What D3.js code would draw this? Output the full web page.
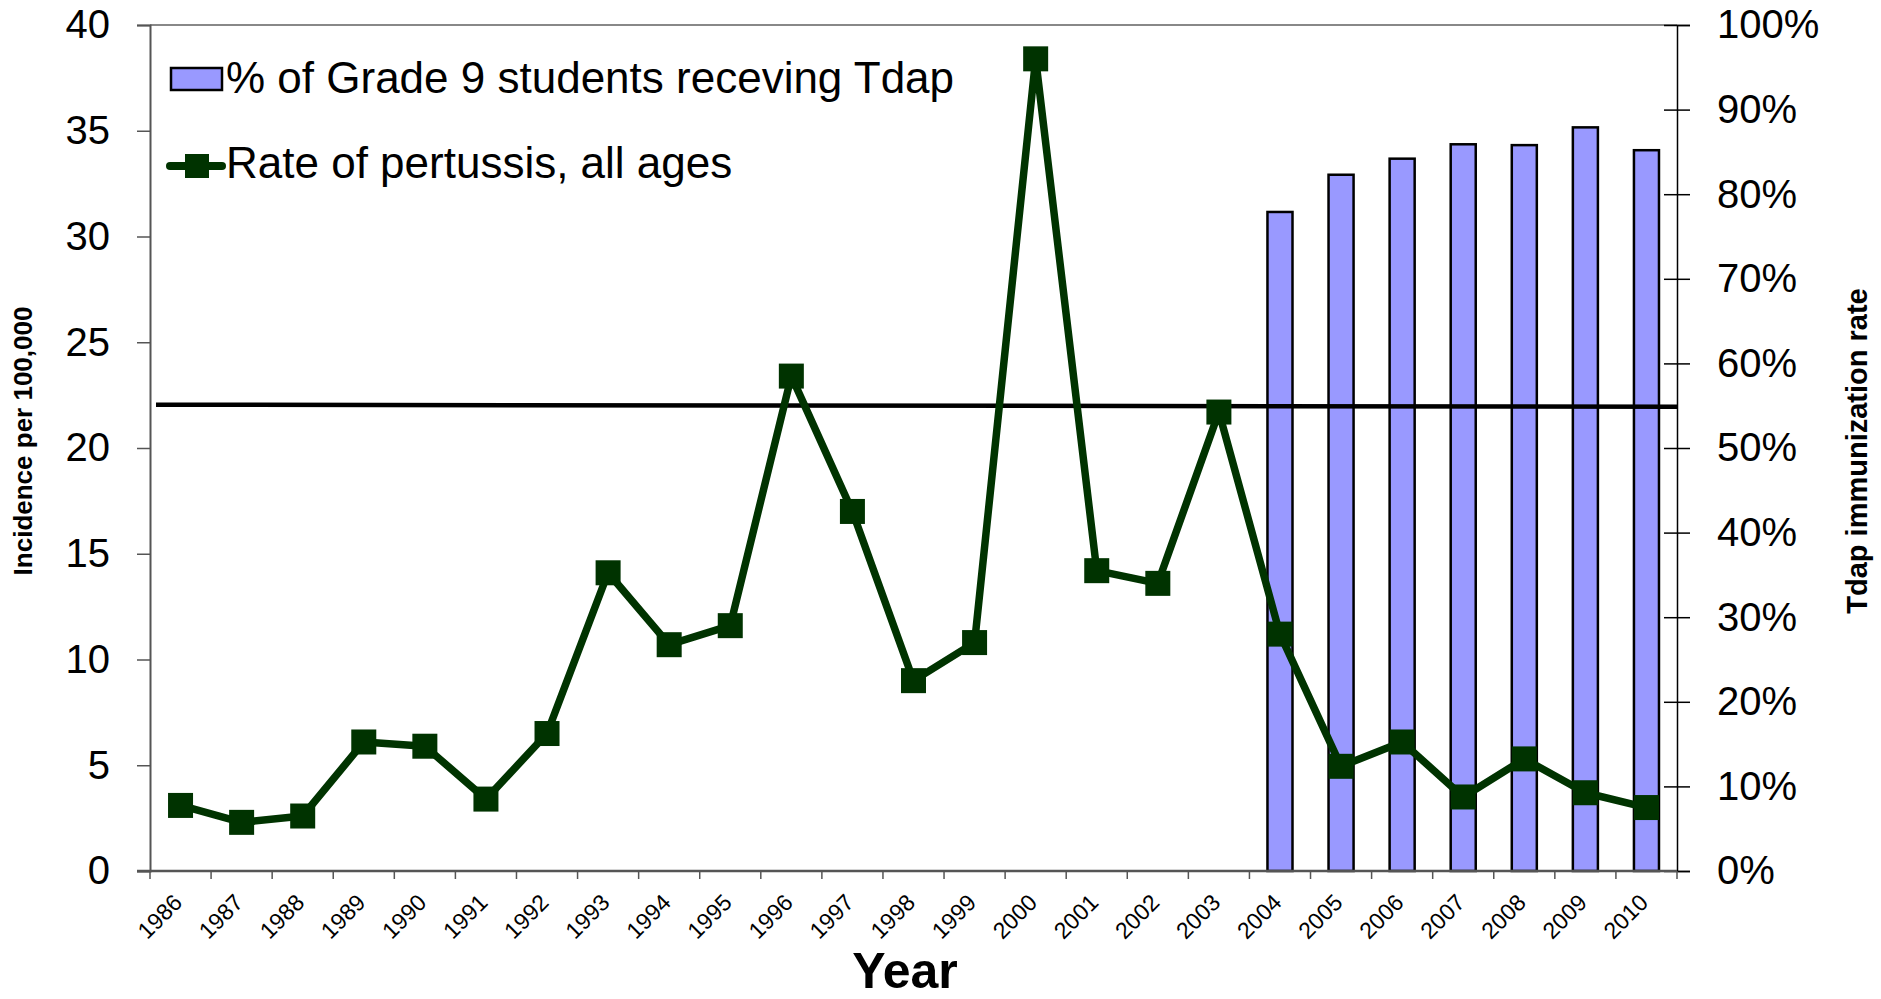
<!DOCTYPE html>
<html>
<head>
<meta charset="utf-8">
<script src="https://cdn.jsdelivr.net/npm/d3@7"></script>
<style>
  html, body { margin: 0; padding: 0; background: #fff; }
  svg { display: block; font-family: "Liberation Sans", Arial, sans-serif; }
</style>
</head>
<body>
<svg id="chart" width="1881" height="999"></svg>
<script>
// ---- data ----
const years = ["1986","1987","1988","1989","1990","1991","1992","1993","1994","1995","1996","1997","1998","1999","2000","2001","2002","2003","2004","2005","2006","2007","2008","2009","2010"];
const pertussisRate = [3.1, 2.3, 2.6, 6.1, 5.9, 3.4, 6.5, 14.1, 10.7, 11.6, 23.4, 17.0, 9.0, 10.8, 38.4, 14.2, 13.6, 21.7, 11.2, 4.95, 6.1, 3.5, 5.3, 3.7, 3.0];
const tdapYears = ["2004","2005","2006","2007","2008","2009","2010"];
const tdapPct = [0.779, 0.823, 0.842, 0.859, 0.858, 0.879, 0.852];
const leftTicks = [0, 5, 10, 15, 20, 25, 30, 35, 40];
const rightTicks = [0, 0.1, 0.2, 0.3, 0.4, 0.5, 0.6, 0.7, 0.8, 0.9, 1.0];
const refLineValues = [22.05, 21.95];   // horizontal reference line (start, end)
const legendLabels = ["% of Grade 9 students receving Tdap", "Rate of pertussis, all ages"];

// ---- layout ----
const L = 150, R = 1677, T = 25, B = 871;
const svg = d3.select("#chart");

const x = d3.scaleBand().domain(years).range([L, R]);
const yL = d3.scaleLinear().domain([0, 40]).range([B, T]);
const yR = d3.scaleLinear().domain([0, 1]).range([B, T]);
const bw = x.bandwidth();
const barW = bw * 0.41;

const lineColor = "#003300";
const barColor = "#9999FF";

// top border
svg.append("line").attr("x1", L).attr("x2", R).attr("y1", T).attr("y2", T)
  .attr("stroke", "#888").attr("stroke-width", 2);

// bars
svg.append("g").selectAll("rect").data(tdapYears).join("rect")
  .attr("x", (d) => x(d) + bw / 2 - barW / 2)
  .attr("y", (d, i) => yR(tdapPct[i]))
  .attr("width", barW)
  .attr("height", (d, i) => yR(0) - yR(tdapPct[i]))
  .attr("fill", barColor).attr("stroke", "#000").attr("stroke-width", 2.5);

// reference line
svg.append("line")
  .attr("x1", L + 6).attr("x2", R)
  .attr("y1", yL(refLineValues[0])).attr("y2", yL(refLineValues[1]))
  .attr("stroke", "#000").attr("stroke-width", 4.5);

// pertussis line
const line = d3.line().x((d, i) => x(years[i]) + bw / 2).y((d) => yL(d));
svg.append("path").datum(pertussisRate).attr("d", line)
  .attr("fill", "none").attr("stroke", lineColor).attr("stroke-width", 7.5)
  .attr("stroke-linejoin", "round");

const ms = 25;
svg.append("g").selectAll("rect").data(pertussisRate).join("rect")
  .attr("x", (d, i) => x(years[i]) + bw / 2 - ms / 2)
  .attr("y", (d) => yL(d) - ms / 2)
  .attr("width", ms).attr("height", ms)
  .attr("fill", lineColor);

// left axis
const gL = svg.append("g").attr("transform", `translate(${L},0)`)
  .call(d3.axisLeft(yL).tickValues(leftTicks).tickSize(13).tickPadding(27).tickFormat(d3.format("d")));
gL.select(".domain").attr("stroke", "#555").attr("stroke-width", 2);
gL.selectAll(".tick line").attr("stroke", "#555").attr("stroke-width", 1.5);
gL.selectAll(".tick text").attr("font-size", 40).attr("fill", "#000")
  .attr("font-family", "Liberation Sans, Arial, sans-serif");

// right axis
const gR = svg.append("g").attr("transform", `translate(${R},0)`)
  .call(d3.axisRight(yR).tickValues(rightTicks).tickSize(13).tickPadding(27).tickFormat(d3.format(".0%")));
gR.select(".domain").attr("stroke", "#000").attr("stroke-width", 1.5);
gR.selectAll(".tick line").attr("x1", -13).attr("stroke", "#000").attr("stroke-width", 1.5);
gR.selectAll(".tick text").attr("font-size", 40).attr("fill", "#000")
  .attr("font-family", "Liberation Sans, Arial, sans-serif");

// bottom axis
svg.append("line").attr("x1", L - 13).attr("x2", R).attr("y1", B).attr("y2", B)
  .attr("stroke", "#555").attr("stroke-width", 2.5);
svg.append("g").selectAll("line").data(years.concat(["end"])).join("line")
  .attr("x1", (d, i) => i < years.length ? x(d) : R)
  .attr("x2", (d, i) => i < years.length ? x(d) : R)
  .attr("y1", B).attr("y2", B + 8)
  .attr("stroke", "#555").attr("stroke-width", 1.5);
svg.append("g").selectAll("text").data(years).join("text")
  .attr("transform", (d) => `translate(${x(d) + bw / 2 + 3},${904}) rotate(-45)`)
  .attr("text-anchor", "end")
  .attr("font-size", 23)
  .attr("fill", "#000")
  .text((d) => d);

// axis titles
svg.append("text").attr("transform", `translate(32,${441}) rotate(-90)`)
  .attr("text-anchor", "middle").attr("font-weight", "bold").attr("font-size", 26)
  .text("Incidence per 100,000");
svg.append("text").attr("transform", `translate(1867,${451}) rotate(-90)`)
  .attr("text-anchor", "middle").attr("font-weight", "bold").attr("font-size", 29)
  .text("Tdap immunization rate");
svg.append("text").attr("x", 905).attr("y", 988)
  .attr("text-anchor", "middle").attr("font-weight", "bold").attr("font-size", 50)
  .text("Year");

// legend
const lg = svg.append("g");
lg.append("rect").attr("x", 171).attr("y", 68).attr("width", 51).attr("height", 22)
  .attr("fill", barColor).attr("stroke", "#000").attr("stroke-width", 2.5);
lg.append("text").attr("x", 226).attr("y", 93).attr("font-size", 44).text(legendLabels[0]);
lg.append("line").attr("x1", 170).attr("x2", 222).attr("y1", 166).attr("y2", 166)
  .attr("stroke", lineColor).attr("stroke-width", 8).attr("stroke-linecap", "round");
lg.append("rect").attr("x", 185).attr("y", 154).attr("width", 24).attr("height", 24).attr("fill", lineColor);
lg.append("text").attr("x", 226).attr("y", 178).attr("font-size", 44).text(legendLabels[1]);
</script>
</body>
</html>
